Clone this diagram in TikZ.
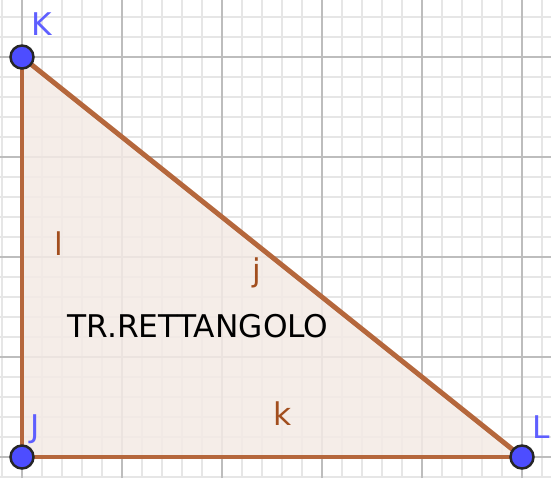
\documentclass[tikz,border=0pt]{standalone}
\usepackage{fontspec}
\setmainfont{DejaVu Sans}
\definecolor{edgebrown}{HTML}{B5673C}
\definecolor{labelbrown}{HTML}{A24E1E}
\definecolor{polyfill}{HTML}{F4EAE5}
\definecolor{ptblue}{HTML}{4D4DFF}
\definecolor{minorgray}{HTML}{E6E6E6}
\definecolor{majorgray}{HTML}{BDBDBD}
\tikzset{
  pointlabel/.style={text=ptblue!90!white, anchor=base, inner sep=0pt, font=\fontsize{8.9}{10}\selectfont},
  edgelabel/.style={text=labelbrown, anchor=base, inner sep=0pt, font=\fontsize{8.9}{10}\selectfont},
  vertex/.style={circle, fill=ptblue, draw=black!85, line width=0.7pt, minimum size=0.23cm, inner sep=0pt},
  side/.style={edgebrown, line width=1.4pt}
}
\begin{document}
\begin{tikzpicture}
            \useasboundingbox (-0.22,-0.21) rectangle (5.29,4.57);
            \fill[white] (-0.22,-0.21) rectangle (5.29,4.57);
            \draw[minorgray, line width=0.4pt] (-0.22,-0.21) grid[step=0.2] (5.29,4.57);
            \draw[majorgray, line width=0.5pt] (-0.22,-0.21) grid[step=1] (5.29,4.57);

            \coordinate (J) at (0,0);
            \coordinate (K) at (0,4);
            \coordinate (L) at (5,0);

            \fill[polyfill, opacity=0.85] (J) -- (K) -- (L) -- cycle;
            \draw[side] (J) -- (K);
            \draw[side] (K) -- (L);
            \draw[side] (L) -- (J);

            \node[vertex] (vK) at (K) {};
            \node[vertex] (vJ) at (J) {};
            \node[vertex] (vL) at (L) {};

            \node[pointlabel] (labK) at (0.20, 4.22) {K};
            \node[pointlabel] (labJ) at (0.13, 0.20) {J};
            \node[pointlabel] (labL) at (5.19, 0.19) {L};

            \node[edgelabel] (labl) at (0.37, 2.02) {l};
            \node[edgelabel] (labj) at (2.35, 1.76) {j};
            \node[edgelabel] (labk) at (2.61, 0.32) {k};

            \node[anchor=base, inner sep=0pt, font=\fontsize{8.9}{10}\selectfont] (title) at (1.76, 1.20) {TR.RETTANGOLO};
        \end{tikzpicture}
\end{document}
